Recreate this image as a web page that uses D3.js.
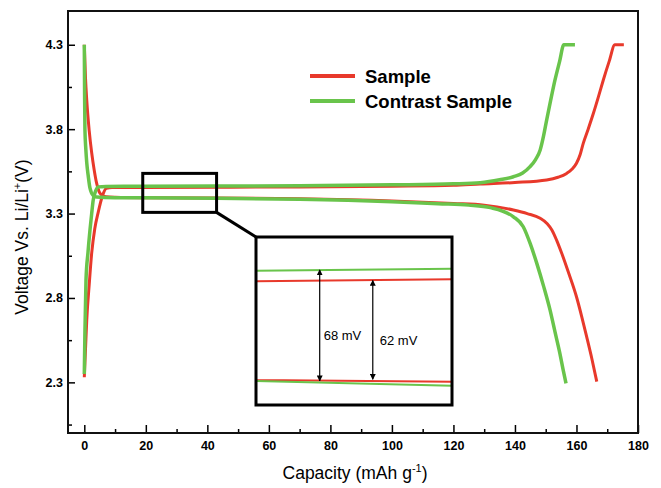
<!DOCTYPE html>
<html>
<head>
<meta charset="utf-8">
<script src="https://cdn.jsdelivr.net/npm/d3@7"></script>
<style>
  body { margin: 0; background: #fff; }
  text { font-family: "Liberation Sans", Arial, sans-serif; }
</style>
</head>
<body>
<div id="chart"></div>
<script>
// capacity (mAh/g), voltage (V)
const sampleCharge = [
  [0, 2.33], [0.4, 2.5], [0.8, 2.67], [1.6, 2.88], [2.4, 3.065], [3.4, 3.21], [4.55, 3.31],
  [5.8, 3.40], [7.2, 3.45], [9, 3.454], [19, 3.455], [43, 3.4562], [70, 3.458], [100, 3.462],
  [120, 3.467], [128.7, 3.475], [140, 3.484], [150.3, 3.499], [154, 3.515], [156.8, 3.538],
  [158.5, 3.562], [160, 3.598], [161.2, 3.65], [162.2, 3.716], [163.8, 3.80], [165.5, 3.894],
  [167.1, 3.99], [168.7, 4.09], [170.6, 4.20], [172.5, 4.30], [175.4, 4.30]
];
const sampleDischarge = [
  [0, 4.30], [0.4, 4.10], [0.8, 3.97], [1.6, 3.79], [2.4, 3.66], [3.2, 3.56], [4, 3.48],
  [4.8, 3.43], [5.6, 3.41], [7, 3.399], [10, 3.396], [19, 3.3935], [43, 3.3925], [70, 3.388],
  [100, 3.375], [120, 3.36], [130, 3.35], [139.5, 3.321], [144, 3.30], [148.2, 3.272],
  [150.5, 3.24], [152, 3.203], [153.6, 3.14], [155.2, 3.065], [157.6, 2.94], [160, 2.807],
  [161.7, 2.69], [163.3, 2.571], [165, 2.44], [166.6, 2.304]
];
const contrastCharge = [
  [0, 2.35], [0.2, 2.6], [0.55, 2.906], [1.2, 3.07], [1.85, 3.203], [2.4, 3.30], [2.9, 3.38],
  [3.6, 3.43], [4.55, 3.458], [7, 3.461], [19, 3.4615], [43, 3.4627], [70, 3.465], [100, 3.47],
  [120, 3.476], [128.7, 3.483], [135, 3.50], [139.5, 3.518], [142.5, 3.54], [144.9, 3.578],
  [146.7, 3.62], [148.2, 3.677], [149.3, 3.76], [150.3, 3.854], [151.6, 3.97], [153, 4.09],
  [154.5, 4.20], [155.9, 4.30], [159.5, 4.30]
];
const contrastDischarge = [
  [0, 4.30], [0.1, 4.0], [0.2, 3.80], [0.5, 3.68], [0.8, 3.60], [1.3, 3.52], [1.85, 3.45],
  [2.9, 3.407], [4, 3.398], [10, 3.394], [19, 3.393], [43, 3.390], [70, 3.385], [100, 3.37],
  [115, 3.358], [125, 3.35], [132, 3.335], [139.5, 3.281], [142.7, 3.222], [145, 3.12],
  [147.1, 3.005], [149.3, 2.87], [151.4, 2.729], [153, 2.60], [154.6, 2.472], [155.6, 2.38],
  [156.6, 2.294]
];

const legendLabels = ["Sample", "Contrast Sample"];
const xTicks = [0, 20, 40, 60, 80, 100, 120, 140, 160, 180];
const xMinor = [10, 30, 50, 70, 90, 110, 130, 150, 170];
const yTicks = [2.3, 2.8, 3.3, 3.8, 4.3];
const yMinor = [2.05, 2.55, 3.05, 3.55, 4.05];

// zoomed window (capacity, voltage) and the gaps marked inside it
const zoomCap = [19, 43];
const zoomVolt = [3.307, 3.538];
const insetVolt = [3.378, 3.4825];
const gaps = [
  { label: "68 mV", cap: 26.8, lo: 3.393, hi: 3.462 },
  { label: "62 mV", cap: 33.3, lo: 3.394, hi: 3.4555 }
];

const red = "#e8392b", green = "#69c44b";

const svg = d3.select("#chart").append("svg")
  .attr("width", 661)
  .attr("height", 488);

const x = d3.scaleLinear().domain([-5.3, 180]).range([68, 638]);
const y = d3.scaleLinear().domain([2.0, 4.5]).range([433, 11]);

// axes
svg.append("g").attr("transform", "translate(0,433)")
  .call(d3.axisBottom(x).tickValues(xTicks).tickSize(-8).tickPadding(8).tickFormat(d3.format("d")));
svg.append("g").attr("transform", "translate(0,433)")
  .call(d3.axisBottom(x).tickValues(xMinor).tickSize(-4).tickFormat(""));
svg.append("g").attr("transform", "translate(68,0)")
  .call(d3.axisLeft(y).tickValues(yTicks).tickSize(-7).tickPadding(5).tickFormat(d3.format(".1f")));
svg.append("g").attr("transform", "translate(68,0)")
  .call(d3.axisLeft(y).tickValues(yMinor).tickSize(-4).tickFormat(""));

svg.selectAll(".domain").remove();
svg.selectAll(".tick line").attr("stroke", "#000").attr("stroke-width", 1.5);
svg.selectAll(".tick text")
  .attr("font-family", "\"Liberation Sans\", Arial, sans-serif")
  .attr("font-size", 12.5)
  .attr("font-weight", "bold")
  .attr("fill", "#000");

svg.append("rect")
  .attr("x", 68).attr("y", 11)
  .attr("width", 570).attr("height", 422)
  .attr("fill", "none")
  .attr("stroke", "#111")
  .attr("stroke-width", 2);

// curves
const line = d3.line()
  .x(d => x(d[0]))
  .y(d => y(d[1]))
  .curve(d3.curveMonotoneX);

const series = [
  { data: sampleCharge, color: red, w: 3 },
  { data: sampleDischarge, color: red, w: 3 },
  { data: contrastCharge, color: green, w: 3.5 },
  { data: contrastDischarge, color: green, w: 3.5 }
];

svg.selectAll(".curve")
  .data(series)
  .enter().append("path")
  .attr("class", "curve")
  .attr("fill", "none")
  .attr("stroke", d => d.color)
  .attr("stroke-width", d => d.w)
  .attr("stroke-linejoin", "round")
  .attr("d", d => line(d.data));

// legend
const legend = svg.append("g").attr("transform", "translate(310,76)");
legendLabels.forEach((name, i) => {
  const g = legend.append("g").attr("transform", `translate(0,${i * 25})`);
  g.append("line")
    .attr("x1", 0).attr("x2", 45)
    .attr("stroke", i === 0 ? red : green)
    .attr("stroke-width", 4);
  g.append("text")
    .attr("x", 55).attr("y", 7)
    .attr("font-size", 18.5)
    .attr("font-weight", "bold")
    .attr("fill", "#000")
    .text(name);
});

// small marker box + connector
svg.append("rect")
  .attr("x", x(zoomCap[0])).attr("y", y(zoomVolt[1]))
  .attr("width", x(zoomCap[1]) - x(zoomCap[0]))
  .attr("height", y(zoomVolt[0]) - y(zoomVolt[1]))
  .attr("fill", "none")
  .attr("stroke", "#000")
  .attr("stroke-width", 3);

const inset = { x0: 256, x1: 452, y0: 237, y1: 405 };
svg.append("line")
  .attr("x1", x(zoomCap[1])).attr("y1", y(zoomVolt[0]))
  .attr("x2", inset.x0).attr("y2", inset.y0)
  .attr("stroke", "#000")
  .attr("stroke-width", 3);

// inset
const xi = d3.scaleLinear().domain(zoomCap).range([inset.x0, inset.x1]);
const yi = d3.scaleLinear().domain(insetVolt).range([inset.y1, inset.y0]);

svg.append("rect")
  .attr("x", inset.x0).attr("y", inset.y0)
  .attr("width", inset.x1 - inset.x0).attr("height", inset.y1 - inset.y0)
  .attr("fill", "#fff");

svg.append("clipPath").attr("id", "insetClip")
  .append("rect")
  .attr("x", inset.x0).attr("y", inset.y0)
  .attr("width", inset.x1 - inset.x0).attr("height", inset.y1 - inset.y0);

const lineInset = d3.line()
  .x(d => xi(d[0]))
  .y(d => yi(d[1]));

svg.append("g").attr("clip-path", "url(#insetClip)")
  .selectAll("path")
  .data(series)
  .enter().append("path")
  .attr("fill", "none")
  .attr("stroke", d => d.color)
  .attr("stroke-width", 2)
  .attr("d", d => lineInset(d.data));

svg.append("defs").append("marker")
  .attr("id", "arrow")
  .attr("viewBox", "0 0 10 10")
  .attr("refX", 9).attr("refY", 5)
  .attr("markerWidth", 6).attr("markerHeight", 6)
  .attr("markerUnits", "userSpaceOnUse")
  .attr("orient", "auto-start-reverse")
  .append("path")
  .attr("d", "M0,0 L10,5 L0,10 z")
  .attr("fill", "#000");

const gapG = svg.selectAll(".gap")
  .data(gaps)
  .enter().append("g")
  .attr("class", "gap");

gapG.append("line")
  .attr("x1", d => xi(d.cap)).attr("x2", d => xi(d.cap))
  .attr("y1", d => yi(d.hi)).attr("y2", d => yi(d.lo))
  .attr("stroke", "#000")
  .attr("stroke-width", 1.2)
  .attr("marker-start", "url(#arrow)")
  .attr("marker-end", "url(#arrow)");

gapG.append("text")
  .attr("x", (d, i) => xi(d.cap) + (i === 0 ? 4 : 7))
  .attr("y", d => yi((d.lo + d.hi) / 2) + 15)
  .attr("font-size", 13)
  .attr("fill", "#000")
  .text(d => d.label);

svg.append("rect")
  .attr("x", inset.x0).attr("y", inset.y0)
  .attr("width", inset.x1 - inset.x0).attr("height", inset.y1 - inset.y0)
  .attr("fill", "none")
  .attr("stroke", "#000")
  .attr("stroke-width", 3);

// axis titles
const xt = svg.append("text")
  .attr("x", 355).attr("y", 479)
  .attr("text-anchor", "middle")
  .attr("font-size", 17.5)
  .attr("fill", "#000");
xt.append("tspan").text("Capacity (mAh g");
xt.append("tspan").attr("dy", -7).attr("font-size", 11).text("-1");
xt.append("tspan").attr("dy", 7).text(")");

const yt = svg.append("text")
  .attr("transform", "translate(28,237) rotate(-90)")
  .attr("text-anchor", "middle")
  .attr("font-size", 17.5)
  .attr("fill", "#000");
yt.append("tspan").text("Voltage Vs. Li/Li");
yt.append("tspan").attr("dy", -7).attr("font-size", 11).text("+");
yt.append("tspan").attr("dy", 7).text("(V)");
</script>
</body>
</html>
